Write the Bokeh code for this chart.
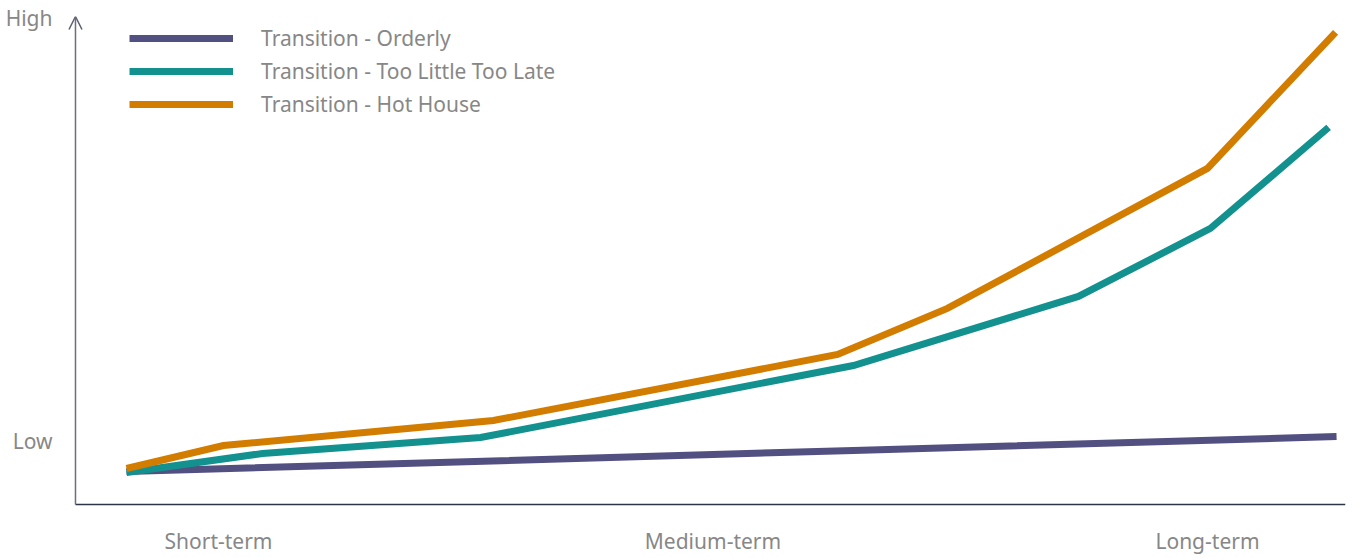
from bokeh.plotting import figure
from bokeh.models import Range1d, FixedTicker, Legend, LegendItem, Arrow, OpenHead
from bokeh.embed import file_html
from bokeh.resources import INLINE

# ---- data (x: horizon index, Short=1, Medium=2, Long=3; y: risk level, Low=1, High=10)
x_ticks = [1, 2, 3]
x_labels = ["Short-term", "Medium-term", "Long-term"]
y_ticks = [1, 10]
y_labels = ["Low", "High"]

orderly_x = [0.814, 2.284, 3.261]
orderly_y = [0.362, 0.809, 1.106]

tltl_x = [0.814, 1.089, 1.530, 2.284, 2.739, 3.006, 3.245]
tltl_y = [0.340, 0.745, 1.085, 2.617, 4.085, 5.532, 7.681]

hot_x = [0.814, 1.010, 1.556, 2.252, 2.474, 3.000, 3.259]
hot_y = [0.426, 0.915, 1.447, 2.851, 3.830, 6.809, 9.702]

series_names = ["Transition - Orderly", "Transition - Too Little Too Late", "Transition - Hot House"]
colors = ["#524f81", "#13918f", "#d27c00"]

# view ranges and the origin where the two drawn axis lines meet
X0, X1 = 0.6805, 3.2791
Y0, Y1 = -0.5528, 10.04
AX, AY = 0.7108, -0.34

FONT = "Noto Sans"
TXT = "#878787"
FS = "21px"

p = figure(width=1356, height=558, output_backend="svg", toolbar_location=None,
           x_range=Range1d(X0, X1), y_range=Range1d(Y0, Y1),
           min_border_left=60, min_border_right=11, min_border_top=16, min_border_bottom=44)
p.outline_line_color = None
p.grid.grid_line_color = None
p.background_fill_color = "white"
p.border_fill_color = "white"

p.xaxis.ticker = FixedTicker(ticks=x_ticks)
p.xaxis.major_label_overrides = {t: l for t, l in zip(x_ticks, x_labels)}
p.yaxis.ticker = FixedTicker(ticks=y_ticks)
p.yaxis.major_label_overrides = {t: l for t, l in zip(y_ticks, y_labels)}
for ax in (p.xaxis, p.yaxis):
    ax.major_tick_line_color = None
    ax.minor_tick_line_color = None
    ax.axis_line_color = None
    ax.major_label_text_font = FONT
    ax.major_label_text_font_size = FS
    ax.major_label_text_color = TXT
p.xaxis.major_label_standoff = 6
p.yaxis.major_label_standoff = 2

# drawn axis lines: horizontal baseline and vertical arrow
p.segment(x0=[AX], y0=[AY], x1=[X1], y1=[AY], line_color="#2b3447", line_width=1.5)
p.add_layout(Arrow(end=OpenHead(size=13, line_color="#5a5e6e", line_width=1.5),
                   x_start=AX, y_start=AY, x_end=AX, y_end=Y1,
                   line_color="#6b6e7f", line_width=1.5))

renderers = []
for xs, ys, c in zip([orderly_x, tltl_x, hot_x], [orderly_y, tltl_y, hot_y], colors):
    r = p.line(xs, ys, line_color=c, line_width=7, line_join="miter")
    renderers.append(r)

legend = Legend(items=[LegendItem(label=n, renderers=[r]) for n, r in zip(series_names, renderers)],
                location=(69, 396), padding=0, margin=0, spacing=5,
                glyph_width=104, glyph_height=20, label_height=20, label_standoff=28,
                label_text_font=FONT, label_text_font_size=FS, label_text_color=TXT,
                border_line_color=None, background_fill_alpha=0)
p.add_layout(legend)

open("out.html", "w").write(file_html(p, INLINE))
